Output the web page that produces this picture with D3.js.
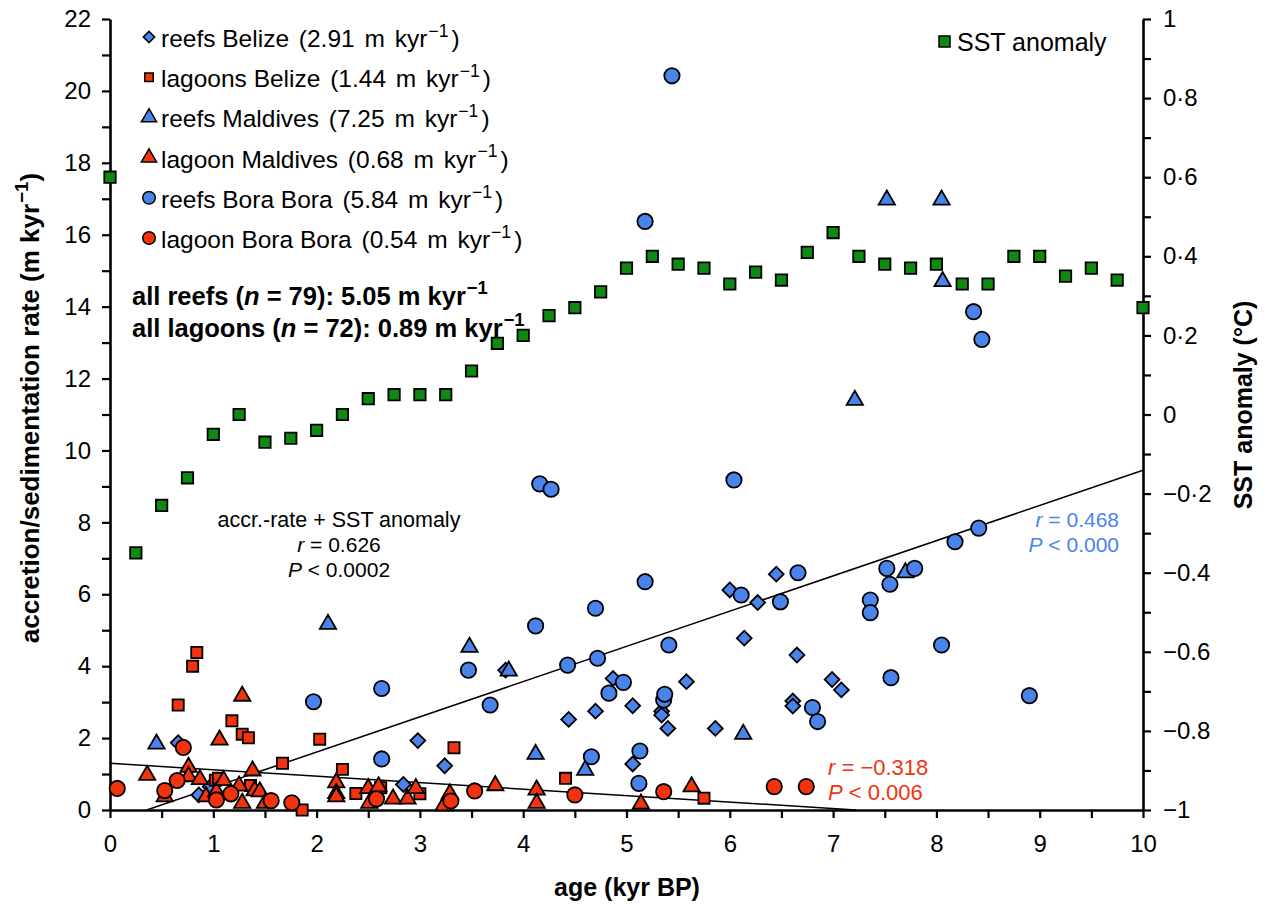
<!DOCTYPE html>
<html>
<head>
<meta charset="utf-8">
<script src="https://cdn.jsdelivr.net/npm/d3@7"></script>
<style>
  body { margin: 0; background: #fff; }
  text { font-family: "Liberation Sans", Arial, sans-serif; fill: #000; }
</style>
</head>
<body>
<div id="chart"></div>
<script>
// ---- data: [age kyr BP, rate m/kyr] ----
var reefsBelize = [[0.66,1.87],[0.86,0.42],[0.97,0.65],[2.84,0.71],[2.98,1.93],[3.24,1.23],[3.83,3.89],
  [4.44,2.52],[4.70,2.75],[4.87,3.66],[5.06,2.90],[5.06,1.28],[5.34,2.75],[5.34,2.64],[5.40,2.27],
  [5.58,3.57],[5.86,2.27],[6.00,6.12],[6.14,4.78],[6.27,5.77],[6.45,6.56],[6.65,4.31],[6.61,3.03],
  [6.61,2.89],[6.99,3.63],[7.08,3.34]];
var reefsMaldives = [[0.45,1.84],[2.11,5.17],[3.48,4.53],[3.86,3.87],[4.12,1.55],[4.60,1.11],[6.13,2.11],
  [7.21,11.40],[7.52,16.97],[7.70,6.60],[8.05,16.97],[8.06,14.70]];
var reefsBoraBora = [[1.97,3.01],[2.63,3.38],[2.63,1.42],[3.47,3.89],[3.68,2.92],[4.12,5.12],[4.16,9.07],
  [4.27,8.92],[4.43,4.03],[4.66,1.48],[4.70,5.61],[4.72,4.22],[4.83,3.25],[4.97,3.55],[5.12,0.74],
  [5.13,1.64],[5.18,6.35],[5.18,16.37],[5.36,3.06],[5.37,3.22],[5.41,4.59],[5.44,20.42],[6.04,9.18],
  [6.11,5.98],[6.49,5.79],[6.66,6.60],[6.80,2.85],[6.85,2.46],[7.36,5.84],[7.36,5.49],[7.52,6.72],
  [7.55,6.28],[7.56,3.68],[7.79,6.72],[8.05,4.59],[8.18,7.46],[8.36,13.86],[8.41,7.84],[8.44,13.09],
  [8.90,3.18]];
var lagoonsBelize = [[0.66,2.92],[0.80,4.00],[0.84,4.38],[1.02,0.83],[1.05,0.88],[1.18,2.48],[1.28,2.11],
  [1.34,2.01],[1.36,0.68],[1.67,1.30],[1.86,0.00],[2.03,1.97],[2.25,1.13],[2.38,0.46],[2.62,0.62],
  [3.00,0.45],[3.33,1.73],[4.41,0.88],[5.75,0.33]];
var lagoonMaldives = [[0.36,0.97],[0.53,0.37],[0.76,1.19],[0.76,0.93],[0.87,0.85],[0.93,0.37],[1.03,0.51],
  [1.06,1.95],[1.10,0.82],[1.25,0.67],[1.28,3.17],[1.28,0.19],[1.38,1.09],[1.40,0.54],[1.45,0.51],
  [1.50,0.19],[2.19,0.76],[2.19,0.46],[2.19,0.37],[2.50,0.60],[2.51,0.19],[2.60,0.65],[2.74,0.31],
  [2.88,0.31],[2.96,0.60],[3.23,0.12],[3.29,0.45],[3.73,0.68],[4.13,0.56],[4.13,0.19],[5.14,0.17],
  [5.63,0.65]];
var lagoonBoraBora = [[0.07,0.60],[0.53,0.54],[0.65,0.82],[0.71,1.74],[1.03,0.28],[1.17,0.45],[1.56,0.26],
  [1.76,0.20],[2.58,0.31],[3.30,0.25],[3.53,0.53],[4.50,0.42],[5.36,0.51],[6.43,0.65],[6.74,0.65]];

// SST anomaly (°C) every 0.25 kyr
var sstAge = [0,0.25,0.5,0.75,1,1.25,1.5,1.75,2,2.25,2.5,2.75,3,3.25,3.5,3.75,4,4.25,4.5,4.75,5,
  5.25,5.5,5.75,6,6.25,6.5,6.75,7,7.25,7.5,7.75,8,8.25,8.5,8.75,9,9.25,9.5,9.75,10];
var sstValue = [0.60,-0.35,-0.23,-0.16,-0.05,0.00,-0.07,-0.06,-0.04,0.00,0.04,0.05,0.05,0.05,0.11,0.18,
  0.20,0.25,0.27,0.31,0.37,0.40,0.38,0.37,0.33,0.36,0.34,0.41,0.46,0.40,0.38,0.37,0.38,0.33,0.33,
  0.40,0.40,0.35,0.37,0.34,0.27];

// regression lines (end points)
var reefLine = [[0.355, 0], [10, 9.45]];
var lagoonLine = [[0, 1.30], [7.22, 0]];

var legendLabels = ['reefs Belize', 'lagoons Belize', 'reefs Maldives', 'lagoon Maldives', 'reefs Bora Bora', 'lagoon Bora Bora'];
var legendRates = ['2.91', '1.44', '7.25', '0.68', '5.84', '0.54'];

var sstTicks = [-1,-0.9,-0.8,-0.7,-0.6,-0.5,-0.4,-0.3,-0.2,-0.1,0,0.1,0.2,0.3,0.4,0.5,0.6,0.7,0.8,0.9,1];
var sstTickLabels = {'-1':'\u22121','-0.8':'\u22120.8','-0.6':'\u22120.6','-0.4':'\u22120.4','-0.2':'\u22120\u00b72',
  '0':'0','0.2':'0\u00b72','0.4':'0\u00b74','0.6':'0\u00b76','0.8':'0\u00b78','1':'1'};

var BLUE = '#4a84ea', RED = '#f2330d', GREEN = '#0e8a12';

var width = 1265, height = 910;
var svg = d3.select('#chart').append('svg').attr('width', width).attr('height', height);

var x = d3.scaleLinear().domain([0, 10]).range([110, 1143]);
var y = d3.scaleLinear().domain([0, 22]).range([810, 19]);
var ySst = d3.scaleLinear().domain([-1, 1]).range([810, 19]);

// axes
var gl = svg.append('g').attr('transform', 'translate(110,0)')
  .call(d3.axisLeft(y).tickValues(d3.range(0, 23, 1)).tickSize(8).tickSizeOuter(0).tickPadding(11)
    .tickFormat(function(d){ return d % 2 == 0 ? d : ''; }));
var gb = svg.append('g').attr('transform', 'translate(0,810)')
  .call(d3.axisBottom(x).tickValues(d3.range(0, 10.01, 0.5)).tickSize(8).tickSizeOuter(0).tickPadding(17)
    .tickFormat(function(d){ return d % 1 == 0 ? d : ''; }));
var gr = svg.append('g').attr('transform', 'translate(1143,0)')
  .call(d3.axisRight(ySst).tickValues(sstTicks).tickSize(8).tickSizeOuter(0).tickPadding(12)
    .tickFormat(function(d){ var k = String(Math.round(d * 10) / 10); return sstTickLabels[k] || ''; }));

[gl, gb, gr].forEach(function(g){
  g.select('.domain').attr('stroke-width', 2.6).attr('stroke', '#000');
  g.selectAll('.tick line').attr('stroke-width', 2.2).attr('stroke', '#000');
  g.selectAll('.tick text').attr('font-size', 24).attr('font-family', '"Liberation Sans", Arial, sans-serif').attr('fill', '#000');
});

// regression lines
var line = d3.line().x(function(d){ return x(d[0]); }).y(function(d){ return y(d[1]); });
svg.append('path').attr('d', line(reefLine)).attr('stroke', '#000').attr('stroke-width', 1.5).attr('fill', 'none');
svg.append('path').attr('d', line(lagoonLine)).attr('stroke', '#000').attr('stroke-width', 1.5).attr('fill', 'none');

function drawPoints(data, type, size, fill, rot, yScale) {
  var sym = d3.symbol().type(type).size(size);
  svg.append('g').selectAll('path')
    .data(data)
    .enter()
    .append('path')
    .attr('d', sym)
    .attr('transform', function(d){ return 'translate(' + x(d[0]) + ',' + yScale(d[1]) + ') rotate(' + rot + ')'; })
    .attr('fill', fill)
    .attr('stroke', '#000')
    .attr('stroke-width', 1.8);
}

var sstData = sstAge.map(function(a, i){ return [a, sstValue[i]]; });
drawPoints(sstData, d3.symbolSquare, 130, GREEN, 0, ySst);
drawPoints(reefsBelize, d3.symbolSquare, 110, BLUE, 45, y);
drawPoints(reefsMaldives, d3.symbolTriangle, 115, BLUE, 0, y);
drawPoints(reefsBoraBora, d3.symbolCircle, 185, BLUE, 0, y);
drawPoints(lagoonsBelize, d3.symbolSquare, 125, RED, 0, y);
drawPoints(lagoonMaldives, d3.symbolTriangle, 115, RED, 0, y);
drawPoints(lagoonBoraBora, d3.symbolCircle, 185, RED, 0, y);

// superscript helper for "m kyr-1)"
function kyr(t, fs, close, gap) {
  t.append('tspan').attr('dx', gap).text('m ');
  t.append('tspan').attr('dx', gap).text('kyr');
  t.append('tspan').attr('dx', 1).attr('dy', -0.42 * fs).attr('font-size', fs * 0.72).text('\u22121');
  if (close) t.append('tspan').attr('dx', gap).attr('dy', 0.42 * fs).text(')');
}

// legend
var legendSymbols = [
  {type: d3.symbolSquare, size: 64, fill: BLUE, rot: 45},
  {type: d3.symbolSquare, size: 72, fill: RED, rot: 0},
  {type: d3.symbolTriangle, size: 100, fill: BLUE, rot: 0},
  {type: d3.symbolTriangle, size: 100, fill: RED, rot: 0},
  {type: d3.symbolCircle, size: 125, fill: BLUE, rot: 0},
  {type: d3.symbolCircle, size: 125, fill: RED, rot: 0}
];
legendLabels.forEach(function(lab, i) {
  var by = 47 + i * 40.2;
  var s = legendSymbols[i];
  svg.append('path').attr('d', d3.symbol().type(s.type).size(s.size))
    .attr('transform', 'translate(149,' + (by - 10) + ') rotate(' + s.rot + ')')
    .attr('fill', s.fill).attr('stroke', '#000').attr('stroke-width', 1.5);
  var t = svg.append('text').attr('x', 161).attr('y', by).attr('font-size', 24.5);
  t.append('tspan').text(lab + ' ');
  t.append('tspan').attr('dx', 3).text('(' + legendRates[i] + ' ');
  kyr(t, 24.5, true, 3);
});

// totals (bold)
var t1 = svg.append('text').attr('x', 132).attr('y', 305).attr('font-size', 25.5).attr('font-weight', 'bold');
t1.append('tspan').text('all reefs (');
t1.append('tspan').attr('font-style', 'italic').text('n');
t1.append('tspan').text(' = 79): 5.05 ');
kyr(t1, 25.5, false, 0);
var t2 = svg.append('text').attr('x', 132).attr('y', 337).attr('font-size', 25.5).attr('font-weight', 'bold');
t2.append('tspan').text('all lagoons (');
t2.append('tspan').attr('font-style', 'italic').text('n');
t2.append('tspan').text(' = 72): 0.89 ');
kyr(t2, 25.5, false, 0);

// SST legend
svg.append('rect').attr('x', 939).attr('y', 36).attr('width', 11).attr('height', 11)
  .attr('fill', GREEN).attr('stroke', '#000').attr('stroke-width', 1.5);
svg.append('text').attr('x', 957).attr('y', 51).attr('font-size', 25).text('SST anomaly');

// correlation annotations
function stat(xp, yp, anchor, color, rtxt, ptxt, fs) {
  var a = svg.append('text').attr('x', xp).attr('y', yp).attr('font-size', fs).attr('text-anchor', anchor).style('fill', color);
  a.append('tspan').attr('font-style', 'italic').text('r');
  a.append('tspan').text(' = ' + rtxt);
  var b = svg.append('text').attr('x', xp).attr('y', yp + 25).attr('font-size', fs).attr('text-anchor', anchor).style('fill', color);
  b.append('tspan').attr('font-style', 'italic').text('P');
  b.append('tspan').text(' < ' + ptxt);
}
svg.append('text').attr('x', 339).attr('y', 527).attr('font-size', 21.5).attr('text-anchor', 'middle').text('accr.-rate + SST anomaly');
stat(339, 552, 'middle', '#000', '0.626', '0.0002', 21);
stat(1119, 527, 'end', BLUE, '0.468', '0.000', 21);
stat(828, 775, 'start', RED, '\u22120.318', '0.006', 22);

// axis titles
svg.append('text').attr('x', 627).attr('y', 896).attr('font-size', 25).attr('font-weight', 'bold')
  .attr('text-anchor', 'middle').text('age (kyr BP)');
var yl = svg.append('text').attr('transform', 'translate(39,408) rotate(-90)').attr('font-size', 26)
  .attr('font-weight', 'bold').attr('text-anchor', 'middle');
yl.append('tspan').text('accretion/sedimentation rate (');
kyr(yl, 26, true, 0);
svg.append('text').attr('transform', 'translate(1252,405) rotate(-90)').attr('font-size', 25)
  .attr('font-weight', 'bold').attr('text-anchor', 'middle').text('SST anomaly (\u00b0C)');
</script>
</body>
</html>
